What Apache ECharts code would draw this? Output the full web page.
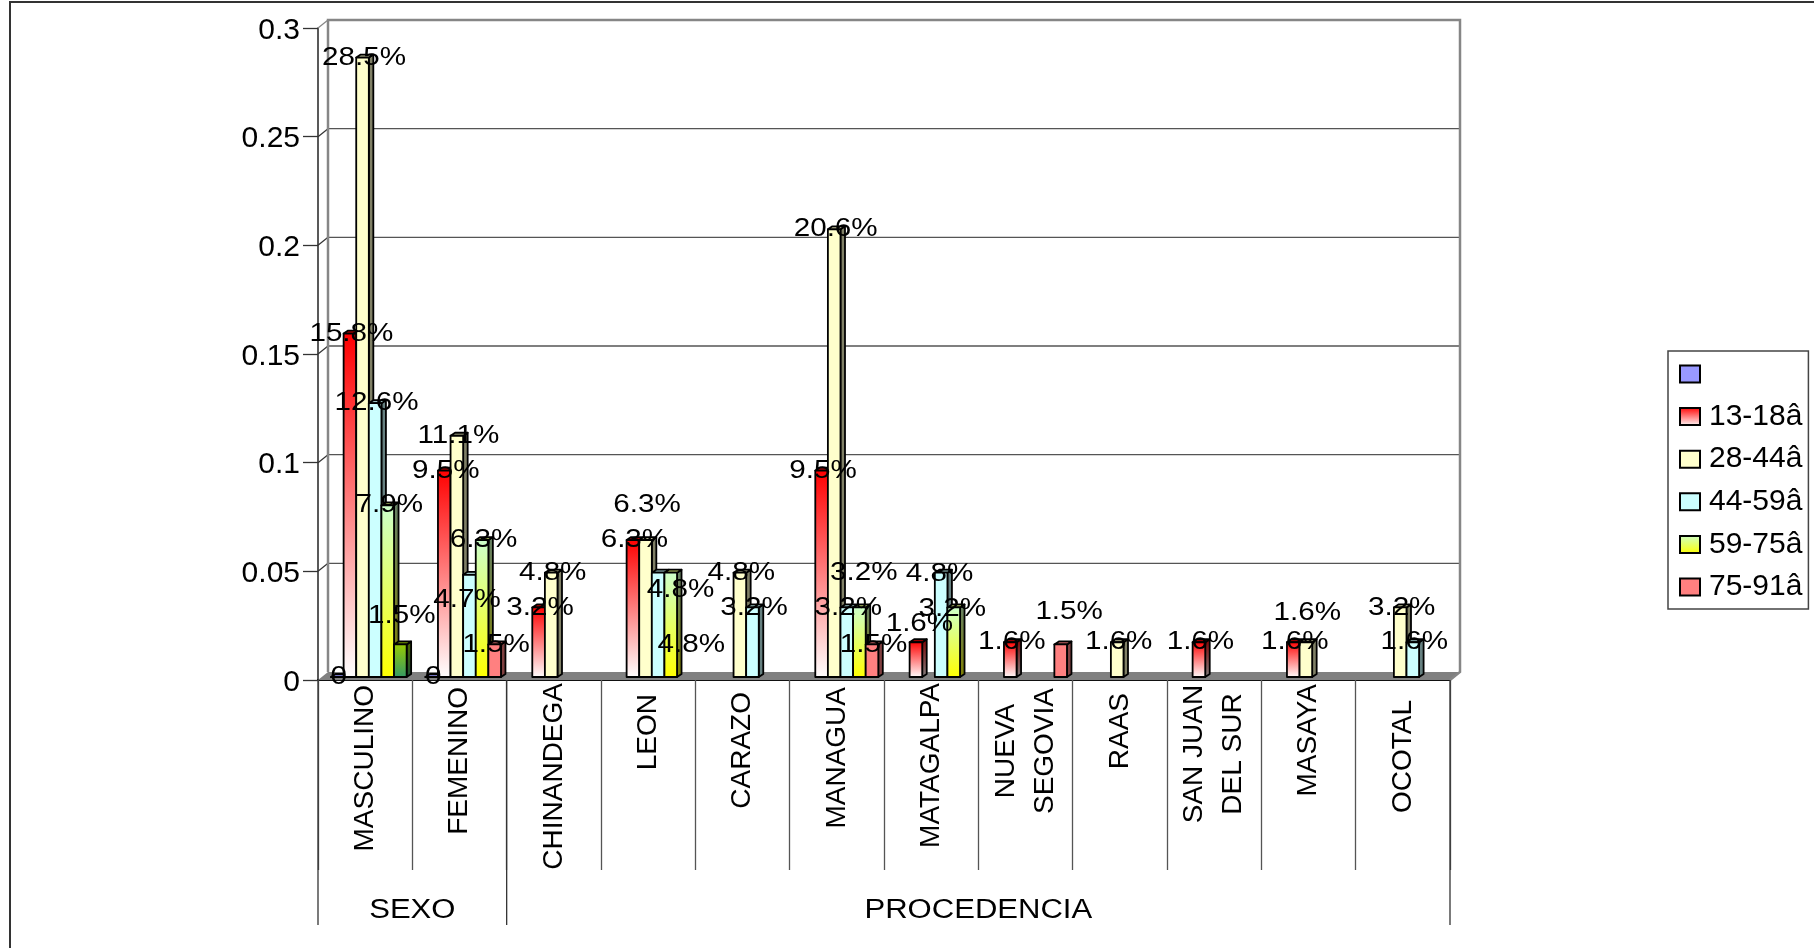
<!DOCTYPE html>
<html>
<head>
<meta charset="utf-8">
<style>html,body{margin:0;padding:0;background:#fff}#chart{width:1814px;height:948px}</style>
<script src="https://cdn.jsdelivr.net/npm/echarts@6/dist/echarts.min.js"></script>
</head>
<body>
<div id="chart"></div>
<script>
// Categories and age bands
const categories = ['MASCULINO','FEMENINO','CHINANDEGA','LEON','CARAZO','MANAGUA','MATAGALPA','NUEVA\nSEGOVIA','RAAS','SAN JUAN\nDEL SUR','MASAYA','OCOTAL'];
const groupNames = ['SEXO','PROCEDENCIA'];
const groupSpans = [[0,1],[2,11]];
const seriesNames = [' ','13-18â','28-44â','44-59â','59-75â','75-91â'];
const yTicks = [0,0.05,0.1,0.15,0.2,0.25,0.3];

// Shares per category; null means no bar
const valuesBlank = [0,0,null,null,null,null,null,null,null,null,null,null];
const values13 = [0.158,0.095,0.032,0.063,null,0.095,0.016,0.016,null,0.016,0.016,null];
const values28 = [0.285,0.111,0.048,0.063,0.048,0.206,null,null,0.016,null,0.016,0.032];
const values44 = [0.126,0.047,null,0.048,0.032,0.032,0.048,null,null,null,null,0.016];
const values59 = [0.079,0.063,null,0.048,null,0.032,0.032,null,null,null,null,null];
const values75 = [0.015,0.015,null,null,null,0.015,null,0.015,null,null,null,null];
const allValues = [valuesBlank,values13,values28,values44,values59,values75];

// Gap between the floor edge and each rotated category label
const categoryInset = [2,4,0,11,9,4,0,5,10,2,1,17];
// Block width that keeps the two lines of a wrapped label centred on each other
const wrappedWidth = {'NUEVA\nSEGOVIA':126, 'SAN JUAN\nDEL SUR':138};

// Colours
const grad = (a,b) => ({type:'linear',x:0,y:0,x2:0,y2:1,colorStops:[{offset:0,color:a},{offset:1,color:b}]});
const palette = [
  {front:'#9999ff',top:'#7373bf',side:'#4d4d80'},
  {front:grad('#ff0000','#ffffff'),top:'#c00000',side:grad('#800000','#808080')},
  {front:'#ffffcc',top:'#bfbf99',side:'#808066'},
  {front:'#ccffff',top:'#99bfbf',side:'#668080'},
  {front:grad('#ccffcc','#ffff00'),top:'#b0c060',side:grad('#668066','#808000')},
  {front:'#ff8080',top:'#bf6060',side:'#804040'}
];
const masculineOldest = {front:grad('#99cc00','#339966'),top:'#739900',side:grad('#4d6600','#1a4d33')};

// Hand-placed data labels: "series:category" -> shift from the bar top
const labelShift = {
  '5:0':[0,-29], '3:1':[-4,25], '2:3':[0,-35], '3:3':[21,17], '4:3':[19,72],
  '4:5':[3,-35], '1:6':[2,-18], '3:6':[-3,1], '4:6':[-3,1], '5:7':[7,-33], '2:10':[0,-29]
};

// Depth of the 3D box and of each bar
const WALL_DX = 10, WALL_DY = 8, BAR_LIFT = 3, BAR_DX = 4.5, BAR_DY = 3;
const TEXT = 'Liberation Sans, Arial, sans-serif';

function stretchedText(text, x, y, size, scaleX) {
  return {type:'text', x, y, scaleX, z2:50,
    style:{text, fontFamily:TEXT, fontSize:size, fill:'#000', align:'center', verticalAlign:'middle'}};
}

// Walls, floor, gridlines and the multi-level category bands
function renderFrame(params, api) {
  const r = params.coordSys, L = r.x, R = r.x + r.width, B = r.y + r.height;
  const wallGrey = {stroke:'#868686', lineWidth:2.5, fill:null};
  const kids = [];
  kids.push({type:'polygon', shape:{points:[[L,B],[L+WALL_DX,B-WALL_DY],[R+WALL_DX,B-WALL_DY],[R,B]]}, style:{fill:'#808080'}});
  yTicks.forEach(t => {
    const y = api.coord([0,t])[1];
    if (t > 0 && t < 0.3) kids.push({type:'line', shape:{x1:L+WALL_DX,y1:y-WALL_DY,x2:R+WALL_DX,y2:y-WALL_DY}, style:{stroke:'#555',lineWidth:1.4}});
    if (t > 0) kids.push({type:'line', shape:{x1:L,y1:y,x2:L+WALL_DX,y2:y-WALL_DY}, style:{stroke:t===0.3?'#868686':'#333',lineWidth:1.2}});
  });
  const top = r.y - WALL_DY;
  kids.push({type:'polyline', shape:{points:[[L+WALL_DX,B-WALL_DY],[L+WALL_DX,top],[R+WALL_DX,top],[R+WALL_DX,B-WALL_DY],[R,B]]}, style:wallGrey});
  // Long separators between the two groups and the group captions
  const band = api.size([1,0])[0];
  [0,2,12].forEach(i => {
    kids.push({type:'line', shape:{x1:L+band*i,y1:B,x2:L+band*i,y2:B+245}, style:{stroke:'#333',lineWidth:1.3}});
  });
  groupNames.forEach((name,i) => {
    const [a,b] = groupSpans[i];
    kids.push(stretchedText(name, L+band*(a+b+1)/2, B+231, 27, 1.15));
  });
  return {type:'group', children:kids};
}

// A single 3D bar with its value label; labels stay above every bar via z2
function renderBar(seriesIndex) {
  return function(params, api) {
    const cat = api.value(0), v = api.value(1);
    if (v == null || isNaN(v)) return null;
    const band = api.size([1,0])[0];
    const w = band * 0.1336;
    const p = api.coord([cat, v]), p0 = api.coord([cat, 0]);
    const x0 = p[0] + band * (-0.362 + 0.1336 * seriesIndex);
    const x1 = x0 + w;
    const yT = p[1] - BAR_LIFT, yB = p0[1] - BAR_LIFT;
    const c = (seriesIndex === 5 && cat === 0) ? masculineOldest : palette[seriesIndex];
    const edge = {stroke:'#000', lineWidth:1.8, lineJoin:'round'};
    const kids = [
      {type:'polygon', z2:seriesIndex+1, shape:{points:[[x1,yT],[x1+BAR_DX,yT-BAR_DY],[x1+BAR_DX,yB-BAR_DY],[x1,yB]]}, style:Object.assign({fill:c.side},edge)},
      {type:'polygon', z2:seriesIndex+1, shape:{points:[[x0,yT],[x0+BAR_DX,yT-BAR_DY],[x1+BAR_DX,yT-BAR_DY],[x1,yT]]}, style:Object.assign({fill:c.top},edge)},
      {type:'rect', z2:seriesIndex+1, shape:{x:x0,y:yT,width:w,height:yB-yT}, style:Object.assign({fill:c.front},edge)}
    ];
    const shift = labelShift[seriesIndex + ':' + cat] || [0,0];
    const text = v === 0 ? '0' : (v*100).toFixed(1) + '%';
    kids.push(stretchedText(text, (x0+x1)/2 + 1.5 + shift[0], yT + shift[1], 26, 1.14));
    return {type:'group', children:kids};
  };
}

const barSeries = seriesNames.map((name,i) => ({
  name, type:'custom', coordinateSystem:'cartesian2d', renderItem:renderBar(i), clip:false, z:5,
  itemStyle:{color:palette[i].front, borderColor:'#000', borderWidth:1.5},
  encode:{x:0,y:1},
  data:allValues[i].map((v,c) => [c,v])
}));

const richBlocks = {};
Object.keys(wrappedWidth).forEach((k,i) => {
  richBlocks['w'+i] = {width:wrappedWidth[k], align:'center', fontFamily:TEXT, fontSize:28, lineHeight:39, color:'#000'};
});

function categoryFormatter(value) {
  const i = Object.keys(wrappedWidth).indexOf(value);
  if (i < 0) return value;
  return value.split('\n').map(line => '{w'+i+'|'+line+'}').join('\n');
}

const chart = echarts.init(document.getElementById('chart'), null, {renderer:'canvas'});
chart.setOption({
  animation:false,
  backgroundColor:'#fff',
  grid:{left:318, right:364, top:28, bottom:268, containLabel:false},
  xAxis:{type:'category',
    data:categories.map((value,i) => ({value, textStyle:{padding:[0,categoryInset[i],0,0]}})),
    boundaryGap:true,
    axisLine:{show:true, lineStyle:{color:'#111',width:2}},
    axisTick:{show:true, interval:0, length:190, lineStyle:{color:'#555',width:1.3}},
    axisLabel:{interval:0, rotate:90, margin:3, color:'#000', fontFamily:TEXT, fontSize:28, lineHeight:39, hideOverlap:false,
      formatter:categoryFormatter, rich:richBlocks},
    splitLine:{show:false}},
  yAxis:{type:'value', min:0, max:0.3, interval:0.05,
    axisLine:{show:true, lineStyle:{color:'#222',width:1.5}},
    axisTick:{show:true, length:15, lineStyle:{color:'#333',width:1.3}},
    axisLabel:{margin:18, color:'#000', fontFamily:TEXT, fontSize:30,
      formatter:v => '{t|' + v + '}',
      rich:{t:{fontFamily:TEXT, fontSize:30, color:'#000', padding:[5,0,0,0]}}},
    splitLine:{show:false}},
  legend:{orient:'vertical', left:1668, top:351, selectedMode:false,
    data:seriesNames, itemWidth:20, itemHeight:17, itemGap:10.6,
    padding:[7,6,6,11], backgroundColor:'#fff', borderColor:'#444', borderWidth:1.5, borderRadius:0,
    icon:'rect',
    textStyle:{color:'#000', fontFamily:TEXT, fontSize:30, lineHeight:32, padding:[0,0,0,4]}},
  // Outer chart border along the top and left edges
  graphic:[{type:'polyline', silent:true, shape:{points:[[10,948],[10,2],[1814,2]]}, style:{stroke:'#333',lineWidth:2,fill:null}}],
  series:[{type:'custom', name:'__frame', coordinateSystem:'cartesian2d', renderItem:renderFrame, clip:false, z:1, encode:{x:0,y:1}, data:[[0,0]], silent:true}].concat(barSeries)
});
</script>
</body>
</html>
